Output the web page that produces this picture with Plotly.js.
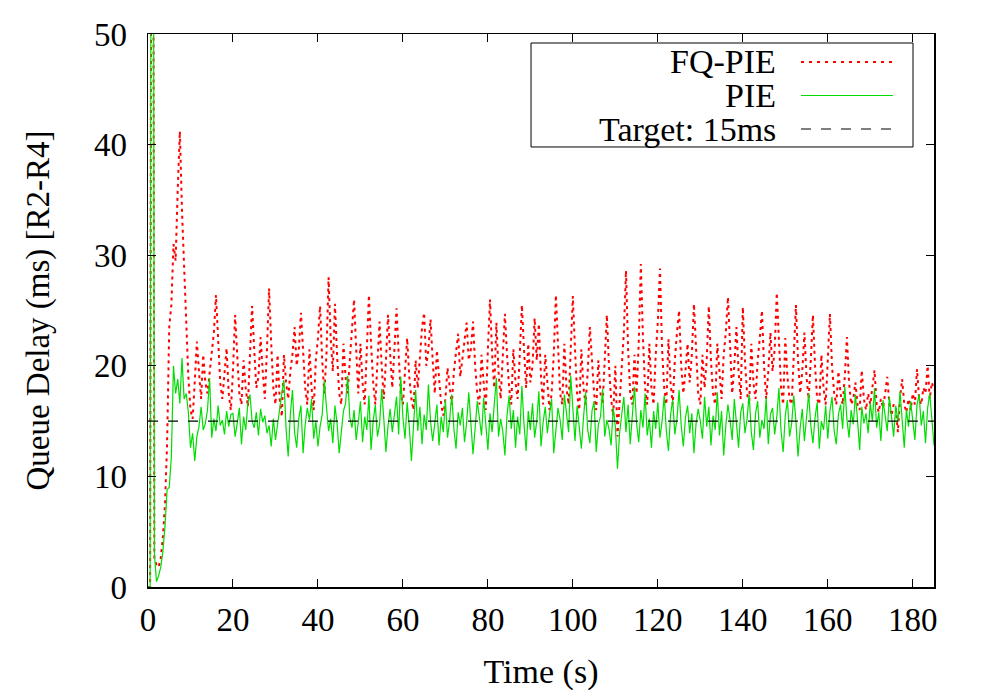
<!DOCTYPE html>
<html>
<head>
<meta charset="utf-8">
<script src="https://cdn.plot.ly/plotly-3.0.1.min.js"></script>
<style>
  html, body { margin: 0; padding: 0; background: #fff; }
  #chart { width: 997px; height: 698px; }
</style>
</head>
<body>
<div id="chart"></div>
<script>
// Sampling step of the recorded series (seconds)
const STEP = 0.5;

// FQ-PIE queue delay (ms), one value every 0.5 s, rows of 10 s
const fqpieDelay = [
  0, 0, 120, 2.6, 2.0, 1.8, 2.6, 4.5, 7.5, 13, 23.5, 25.5, 31, 29.5, 36, 41.2, 34, 29, 25, 19,
  16, 15.2, 18.5, 22.2, 19.5, 17, 21, 18.5, 17.5, 19.5, 21.5, 23, 26.4, 22, 18.5, 17, 19, 21.6, 17.5, 16,
  19.5, 24.6, 21, 17.5, 16.5, 20.5, 18, 16.3, 21, 25.4, 21.5, 18, 19, 22.6, 19.5, 17, 21.5, 27, 22, 18,
  16.5, 21, 17, 15.4, 21, 18.5, 17, 19.5, 21, 23.5, 20, 21.5, 24.8, 21, 18, 16.5, 21.5, 18, 16, 20.5,
  22.5, 25.4, 20.5, 17.5, 21, 28, 22.5, 19.5, 25.6, 21, 17.5, 16.5, 22, 19, 17.5, 20.5, 23, 26, 21.5, 17.5,
  22, 18.5, 16.5, 21.5, 26.4, 22, 18.5, 16.5, 20.5, 24, 20, 17, 20.5, 24.6, 21, 18, 21.5, 25.2, 21, 17.5,
  16.5, 19.5, 22.5, 19, 17, 16, 20.5, 18, 21, 23.5, 24.8, 20, 21.5, 24.2, 20.5, 17.5, 21.4, 18.5, 16.5, 15.5,
  17, 19.8, 18, 16.5, 19.5, 21.5, 22.9, 19, 20.5, 22, 23.9, 20.5, 21.5, 24, 20, 17.5, 16.5, 21, 18, 16,
  21.5, 26, 21, 18, 23.9, 19.5, 17, 20.5, 24.7, 21, 18, 16.5, 21.5, 18.5, 17, 21, 25.5, 21.5, 18, 22,
  18.5, 20, 24.3, 20.5, 23.8, 19, 16.5, 21, 18, 16, 17.5, 21, 26.4, 21.5, 17.5, 16.5, 22, 18, 16.5, 21.5,
  26.3, 21.5, 17.5, 16, 21.5, 18, 16.5, 19.5, 23.5, 20.5, 17.5, 16, 20.5, 17.5, 16.5, 20.5, 24.6, 20, 17, 15.5,
  20, 13.6, 17, 19.5, 23, 28.6, 21.5, 17.5, 16.5, 21, 17.5, 22, 29.2, 22.5, 18, 16.5, 22, 18, 16.5, 21,
  24, 28.8, 21.5, 18, 16.5, 22.4, 18.5, 16.5, 20.5, 23, 25, 20, 17.5, 19.5, 22, 18.5, 21, 25.6, 21, 17.5,
  16.5, 21, 18, 20.5, 25.4, 20.5, 17.5, 16.5, 22, 19, 17, 21, 23, 26.2, 21.5, 17.5, 20, 23.5, 19.5, 17,
  25.3, 20.5, 17.5, 16.5, 22, 18.5, 17, 20.5, 22.5, 25, 20, 17, 19.5, 23, 19.5, 21.5, 26.6, 21.5, 18, 16.5,
  22.5, 19, 17, 16.5, 21, 25.5, 20.5, 17.5, 19.5, 23, 19, 17, 20.5, 24.6, 20, 17, 16.5, 21, 18, 16.5,
  20.5, 24.7, 20, 17.5, 16.5, 19.5, 17.5, 16.5, 19, 22.6, 18.5, 16.5, 17, 18.5, 16.5, 16, 19.6, 17, 16, 17.5,
  16.5, 18, 19.6, 16.5, 15.8, 17, 16.2, 17.5, 19, 16.5, 15.5, 16.5, 16.2, 14.0, 17, 18.8, 16.5, 15.8, 17, 16,
  17.5, 16.5, 19.7, 17, 16.5, 18, 17.5, 20, 17, 18.5, 17.8
];

// PIE queue delay (ms), one value every 0.5 s, rows of 10 s
const pieDelay = [
  0, 0, 150, 3, 0.5, 1.0, 1.8, 3.2, 5.5, 8.8, 9.0, 11.8, 20.0, 17.5, 18.8, 16.6, 20.7, 17.0, 17.5, 15.8,
  12.6, 13.9, 11.4, 13.6, 14.5, 16.3, 14.2, 14.8, 16.0, 18.9, 13.5, 15.2, 14.1, 16.4, 14.6, 15.1, 13.8, 15.9, 14.5, 15.6,
  15.7, 13.6, 14.8, 16.2, 12.9, 15.4, 14.2, 16.6, 17.4, 15.0, 14.4, 15.8, 13.7, 16.1, 14.9, 15.5, 13.9, 14.6, 12.7, 15.2,
  13.3, 14.8, 15.9, 17.5, 18.7, 14.3, 11.8, 15.6, 17.8, 14.0, 12.6, 15.3, 16.4, 12.1, 14.7, 16.2, 15.1, 17.0, 13.4, 15.0,
  12.7, 14.5, 15.6, 18.7, 16.3, 14.1, 15.2, 13.0, 16.4, 14.8, 12.1, 13.8, 15.9, 16.6, 19.1, 15.3, 14.4, 16.0, 13.3, 14.9,
  16.8, 13.1, 15.4, 14.2, 17.3, 12.4, 15.0, 16.5, 13.6, 14.7, 17.9, 15.2, 12.2, 14.6, 16.1, 14.0, 15.5, 17.2, 13.8, 19.0,
  15.3, 13.4, 16.7, 14.5, 11.4, 15.2, 17.8, 14.1, 16.3, 12.9, 15.6, 14.2, 18.3, 15.0, 13.2, 14.8, 16.5, 12.8, 15.4, 14.0,
  16.9, 13.5, 15.1, 17.4, 14.3, 12.5, 15.8, 14.6, 16.2, 13.1, 14.9, 17.6, 15.0, 12.0, 14.4, 16.8, 15.3, 13.7, 17.1, 14.5,
  12.4, 15.7, 14.0, 16.5, 18.9, 13.6, 15.2, 14.1, 11.9, 15.5, 17.3, 14.3, 16.0, 12.6, 15.4, 13.8, 18.2, 14.7, 12.3, 15.9,
  14.2, 16.6, 13.5, 15.0, 17.7, 12.7, 14.9, 16.3, 13.9, 15.6, 17.0, 12.1, 14.5, 16.2, 15.1, 13.3, 17.4, 15.5, 14.0, 19.1,
  15.8, 13.2, 16.4, 14.6, 12.5, 15.3, 17.6, 14.2, 13.0, 15.9, 16.8, 12.2, 14.7, 15.4, 17.9, 13.6, 15.1, 14.3, 12.8, 16.2,
  14.5, 10.7, 13.9, 15.6, 17.2, 14.0, 16.5, 12.9, 15.3, 18.1, 14.8, 13.1, 16.0, 14.4, 17.5, 13.7, 15.2, 12.6, 15.9, 14.3,
  16.7, 13.5, 15.0, 17.3, 14.1, 12.3, 15.6, 16.9, 13.8, 15.2, 17.8, 14.6, 12.7, 15.3, 16.4, 13.9, 15.7, 12.1, 14.8, 16.1,
  15.0, 13.4, 17.2, 14.5, 16.3, 12.8, 15.5, 14.2, 17.6, 13.7, 15.9, 11.9, 14.6, 16.5, 15.1, 13.3, 17.0, 14.4, 12.6, 15.8,
  16.6, 13.9, 15.2, 17.4, 14.0, 12.4, 15.7, 16.8, 13.5, 15.1, 14.3, 17.1, 12.9, 15.6, 16.2, 13.8, 15.4, 18.0, 14.1, 12.2,
  15.5, 16.9, 13.6, 14.8, 17.3, 15.0, 11.8, 14.4, 16.1, 13.2, 15.8, 17.5, 14.6, 13.0, 15.3, 16.7, 12.5, 15.0, 14.2, 16.4,
  13.4, 15.9, 17.2, 14.1, 12.9, 15.6, 16.5, 14.3, 18.1, 15.2, 13.5, 16.0, 14.7, 17.4, 15.1, 12.4, 16.3, 14.8, 15.7, 13.9,
  16.6, 15.0, 18.0, 14.4, 15.8, 13.2, 16.9, 15.3, 14.1, 17.2, 15.5, 13.6, 16.4, 14.9, 17.7, 15.2, 12.6, 16.0, 14.5, 16.8,
  15.1, 13.3, 16.5, 17.4, 14.6, 15.9, 13.0, 16.2, 17.5, 15.3, 12.8
];

// Target delay line
const targetDelay = 15;
const timeRange = [0, 185];
const delayRange = [0, 50];

// Tick labels
const xTicks = [0, 20, 40, 60, 80, 100, 120, 140, 160, 180];
const yTicks = [0, 10, 20, 30, 40, 50];

// Legend labels
const seriesNames = ['FQ-PIE', 'PIE', 'Target: 15ms'];

const times = fqpieDelay.map((_, i) => i * STEP);

const FONT = 'Liberation Serif, Times New Roman, serif';
const RED = '#ff0000';
const GREEN = '#00dd00';

const traces = [
  { x: times, y: fqpieDelay, type: 'scatter', mode: 'lines', name: seriesNames[0],
    line: { color: RED, width: 2, dash: '3px,4px' }, showlegend: false },
  { x: times, y: pieDelay, type: 'scatter', mode: 'lines', name: seriesNames[1],
    line: { color: GREEN, width: 1.2 }, showlegend: false },
  { x: timeRange, y: [targetDelay, targetDelay], type: 'scatter', mode: 'lines', name: seriesNames[2],
    line: { color: '#000000', width: 1.2, dash: '10px,10px' }, showlegend: false }
];

// Legend geometry (paper coordinates)
const lgBox = { x0: 0.4873, x1: 0.9733, y0: 0.7957, y1: 0.9837 };
const lgTextX = 0.8015;
const lgLineX = [0.8308, 0.9478];
const lgRowY = [0.9494, 0.8888, 0.8282];
const lgStyles = [
  { color: RED, width: 2, dash: '3px,5px' },
  { color: GREEN, width: 1.2 },
  { color: '#000000', width: 1.2, dash: '10px,10px' }
];

const shapes = [
  { type: 'rect', xref: 'paper', yref: 'paper', x0: lgBox.x0, x1: lgBox.x1, y0: lgBox.y0, y1: lgBox.y1,
    line: { color: '#000', width: 1 }, fillcolor: 'rgba(255,255,255,1)', layer: 'above' }
];
const annotations = [];
seriesNames.forEach((name, i) => {
  shapes.push({ type: 'line', xref: 'paper', yref: 'paper', x0: lgLineX[0], x1: lgLineX[1],
    y0: lgRowY[i], y1: lgRowY[i], line: lgStyles[i], layer: 'above' });
  annotations.push({ xref: 'paper', yref: 'paper', x: lgTextX, y: lgRowY[i], text: name,
    showarrow: false, xanchor: 'right', yanchor: 'middle',
    font: { family: FONT, size: 34, color: '#000' } });
});

const axisCommon = {
  showgrid: false, zeroline: false, showline: true, linecolor: '#000', linewidth: 1.5,
  mirror: 'ticks', ticks: 'inside', ticklen: 8, tickwidth: 1, tickcolor: '#000',
  tickfont: { family: FONT, size: 33, color: '#000' }
};

const layout = {
  width: 997, height: 698,
  margin: { l: 148, r: 63, t: 34, b: 111 },
  paper_bgcolor: '#fff', plot_bgcolor: '#fff',
  font: { family: FONT, size: 33, color: '#000' },
  showlegend: false,
  xaxis: Object.assign({}, axisCommon, {
    range: timeRange, tickmode: 'array', tickvals: xTicks, ticktext: xTicks.map(String),
    ticklabelstandoff: 3,
    title: { text: 'Time (s)', font: { family: FONT, size: 34, color: '#000' }, standoff: 22 }
  }),
  yaxis: Object.assign({}, axisCommon, {
    range: delayRange, tickmode: 'array', tickvals: yTicks, ticktext: yTicks.map(String),
    ticklabelstandoff: 13,
    title: { text: 'Queue Delay (ms) [R2-R4]', font: { family: FONT, size: 33, color: '#000' }, standoff: 34 }
  }),
  shapes: shapes,
  annotations: annotations
};

Plotly.newPlot('chart', traces, layout, { staticPlot: true, displayModeBar: false });
</script>
</body>
</html>
